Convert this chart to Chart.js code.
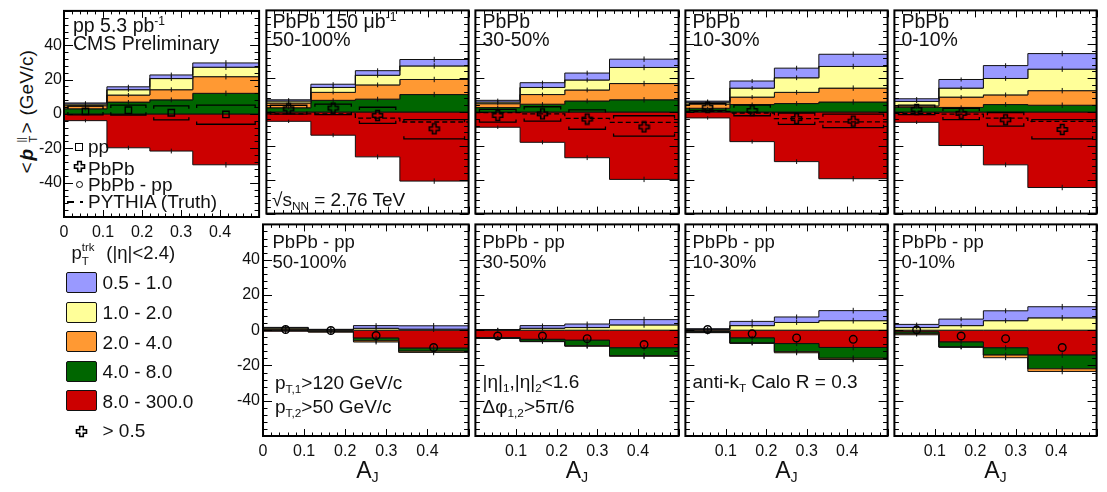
<!DOCTYPE html>
<html><head><meta charset="utf-8">
<script src="https://cdn.jsdelivr.net/npm/chart.js@4.4.1/dist/chart.umd.min.js"></script>
<style>
body{margin:0;background:#fff;width:1107px;height:492px;overflow:hidden;position:relative;font-family:"Liberation Sans",Arial,sans-serif;color:#111}
canvas{position:absolute}
svg{position:absolute;overflow:visible}
.t{position:absolute;white-space:nowrap;line-height:1}
.t sup,.t sub{font-size:62%;line-height:0;position:relative;vertical-align:baseline}
.t sup{top:-0.62em}
.t sub{top:0.32em}
.st{display:inline-block;position:relative;height:0;vertical-align:baseline}
.st .up{position:absolute;left:0;bottom:0.5em;font-size:62%;line-height:1}
.st .dn{position:absolute;left:0;top:-0.25em;font-size:62%;line-height:1}
</style></head><body>
<svg width="60" height="230" style="left:0;top:0" font-family="Liberation Sans, Arial, sans-serif" fill="#111">
  <g transform="translate(33.3,173.5) rotate(-90)">
    <text x="0" y="0" font-size="19">&lt;</text>
    <text x="13" y="0" font-size="19" font-weight="bold" font-style="italic">p</text>
    <text x="13.5" y="0" font-size="19" font-weight="bold">/</text>
    <text x="31" y="-8" font-size="11">||</text>
    <text x="31" y="4" font-size="11">T</text>
    <text x="40" y="0" font-size="19">&gt;</text>
    <text x="58" y="0" font-size="19">(GeV/c)</text>
  </g>
</svg>
<script>
// ---------------- data ----------------
const binEdges   = [0, 0.11, 0.22, 0.33, 0.5];
const binCenters = [0.055, 0.165, 0.275, 0.415];
const trackBins  = ['0.5 - 1.0', '1.0 - 2.0', '2.0 - 4.0', '4.0 - 8.0', '8.0 - 300.0'];
const trackColors = ['#9999ff', '#ffff99', '#ff9933', '#006600', '#cc0000'];
const xTickValues = [0, 0.1, 0.2, 0.3, 0.4];
const yTickValues = [-40, -20, 0, 20, 40];
// half-length of the small statistical error ticks drawn on each band edge (GeV/c)
const bandStatErr = [1.0, 1.2, 1.4, 1.6];

// pp
const pp_trk05 = [0.6, 1.7, 2.1, 2.5];
const pp_trk1  = [1.0, 3.1, 6.5, 5.5];
const pp_trk2  = [1.8, 4.1, 5.9, 9.7];
const pp_trk4  = [3.0, 6.9, 8.2, 12.0];
const pp_trk8  = [-3.9, -19.7, -21.6, -29.6];
const pp_all   = [1.5, 2.2, 0.7, -0.3];
const pp_sysHi = [4.5, 5.1, 4.7, 5.1];
const pp_sysLo = [-0.5, -0.6, -3.5, -6.0];

// PbPb 50-100%
const c50_trk05 = [0.7, 1.9, 2.7, 3.8];
const c50_trk1  = [1.2, 2.9, 5.7, 8.0];
const c50_trk2  = [2.8, 4.7, 8.4, 8.9];
const c50_trk4  = [2.5, 6.9, 7.6, 10.3];
const c50_trk8  = [-5.5, -13.7, -26.5, -40.8];
const c50_all   = [1.9, 2.3, -2.1, -9.9];
const c50_sysHi = [4.0, 4.7, 2.8, -4.5];
const c50_sysLo = [-1.3, -1.6, -6.7, -15.9];
const c50_pythia = [-1.1, -1.1, -3.6, -5.9];

// PbPb 30-50%
const c30_trk05 = [1.0, 2.8, 4.1, 4.9];
const c30_trk1  = [1.0, 4.2, 5.9, 9.5];
const c30_trk2  = [2.3, 5.7, 6.5, 9.6];
const c30_trk4  = [2.6, 4.6, 6.5, 7.2];
const c30_trk8  = [-9.0, -17.9, -27.0, -39.8];
const c30_all   = [-2.1, -1.1, -4.2, -8.8];
const c30_sysHi = [1.6, 3.1, 1.3, -2.2];
const c30_sysLo = [-6.0, -5.4, -10.2, -14.3];
const c30_pythia = [-0.4, -1.1, -3.8, -6.1];

// PbPb 10-30%
const c10_trk05 = [0.6, 4.2, 5.7, 7.2];
const c10_trk1  = [1.1, 5.3, 8.6, 12.8];
const c10_trk2  = [2.5, 4.4, 6.6, 8.2];
const c10_trk4  = [2.2, 4.4, 5.0, 5.9];
const c10_trk8  = [-3.5, -17.5, -29.3, -39.4];
const c10_all   = [2.8, 0.9, -3.9, -5.4];
const c10_sysHi = [5.1, 4.1, -0.6, -1.2];
const c10_sysLo = [0.9, -2.2, -7.3, -9.2];
const c10_pythia = [0.4, -0.6, -3.9, -5.8];

// PbPb 0-10%
const c0_trk05 = [1.5, 5.1, 7.6, 9.2];
const c0_trk1  = [2.7, 5.3, 9.7, 12.7];
const c0_trk2  = [0.8, 6.1, 5.7, 8.6];
const c0_trk4  = [2.8, 2.7, 4.4, 4.0];
const c0_trk8  = [-6.1, -19.8, -31.2, -44.6];
const c0_all   = [1.5, -0.8, -4.6, -10.3];
const c0_sysHi = [4.1, 2.2, -0.3, -4.5];
const c0_sysLo = [-1.6, -4.5, -8.3, -15.9];
const c0_pythia = [-0.8, -1.3, -3.6, -5.5];

// PbPb - pp 50-100%
const d50_trk05 = [0.3, 0.2, 1.5, 1.9];
const d50_trk1  = [0.6, 0.3, 1.1, 0.6];
const d50_trk2  = [0.5, -0.3, -0.7, -0.7];
const d50_trk4  = [0.2, -0.3, -1.5, -1.7];
const d50_trk8  = [-0.6, -0.5, -4.5, -10.2];
const d50_all   = [0.4, -0.2, -3.0, -9.8];

// PbPb - pp 30-50%
const d30_trk05 = [0.2, 1.5, 2.0, 3.0];
const d30_trk1  = [0.2, 1.1, 1.5, 3.0];
const d30_trk2  = [-0.1, -0.2, -0.3, -0.4];
const d30_trk4  = [-0.3, -1.1, -3.1, -4.4];
const d30_trk8  = [-4.2, -5.2, -5.7, -10.0];
const d30_all   = [-3.3, -3.3, -4.8, -8.1];

// PbPb - pp 10-30%
const d10_trk05 = [0.3, 2.4, 3.1, 5.7];
const d10_trk1  = [0.5, 2.6, 4.4, 5.4];
const d10_trk2  = [-0.2, -0.3, -0.6, -0.7];
const d10_trk4  = [-0.4, -2.8, -4.6, -6.1];
const d10_trk8  = [-0.8, -4.4, -7.6, -9.8];
const d10_all   = [0.4, -2.0, -4.4, -5.2];

// PbPb - pp 0-10%
const d0_trk05 = [1.8, 3.7, 5.6, 6.3];
const d0_trk1  = [1.5, 2.6, 5.4, 7.0];
const d0_trk2  = [-0.6, -0.2, -1.5, -1.5];
const d0_trk4  = [-1.0, -2.8, -4.1, -7.8];
const d0_trk8  = [-1.0, -6.7, -10.0, -14.1];
const d0_all   = [0.2, -3.3, -4.8, -9.8];

// ---------------- helpers ----------------
const FONT = "'Liberation Sans', Arial, sans-serif";
Chart.defaults.font.family = FONT;

function crossCanvas() {
  const c = document.createElement('canvas');
  c.width = 13; c.height = 13;
  const g = c.getContext('2d');
  const cx = 6.5, cy = 6.5, a = 1.8, r = 5.0;
  const pts = [[-a,-r],[a,-r],[a,-a],[r,-a],[r,a],[a,a],[a,r],[-a,r],[-a,a],[-r,a],[-r,-a],[-a,-a]];
  g.beginPath();
  pts.forEach(([x, y], i) => i ? g.lineTo(cx + x, cy + y) : g.moveTo(cx + x, cy + y));
  g.closePath();
  g.lineWidth = 1.6; g.strokeStyle = '#000'; g.stroke();
  return c;
}
const CROSS = crossCanvas();

const rootFrame = {
  id: 'rootFrame',
  afterDatasetsDraw(chart) {
    const {ctx, chartArea: a} = chart;
    const xs = chart.scales.x, ys = chart.scales.y;
    ctx.save();
    ctx.strokeStyle = '#000'; ctx.lineWidth = 1;
    ctx.beginPath();
    for (let i = 0; i <= 25; i++) {
      const px = Math.round(xs.getPixelForValue(i * 0.02)) + 0.5;
      const L = i % 5 === 0 ? 7 : 3.5;
      ctx.moveTo(px, a.bottom); ctx.lineTo(px, a.bottom - L);
      ctx.moveTo(px, a.top); ctx.lineTo(px, a.top + L);
    }
    for (let i = 0; i <= 30; i++) {
      const v = -60 + 4 * i;
      const py = Math.round(ys.getPixelForValue(v)) + 0.5;
      const L = v % 20 === 0 ? 9 : 4.5;
      ctx.moveTo(a.left, py); ctx.lineTo(a.left + L, py);
      ctx.moveTo(a.right, py); ctx.lineTo(a.right - L, py);
    }
    ctx.stroke();
    ctx.lineWidth = 2;
    ctx.strokeRect(a.left, a.top, a.right - a.left, a.bottom - a.top);
    ctx.restore();
  }
};

function stepData(arr) {
  return binEdges.map((x, i) => ({x, y: arr[Math.min(i, arr.length - 1)]}));
}

function makePanel(p) {
  const yW = p.showY ? 44 : 0, xH = p.showX ? 26 : 0;
  const padT = 2, padR = 2, padL = p.showY ? 0 : 2, padB = p.showX ? 0 : 2;
  const cv = document.createElement('canvas');
  cv.width = p.w + yW + padL + padR;
  cv.height = p.h + xH + padT + padB;
  cv.style.left = (p.left - yW - padL) + 'px';
  cv.style.top = (p.top - padT) + 'px';
  document.body.appendChild(cv);

  // stacking order: red, green, orange, yellow, blue; positive and negative stacks kept apart
  const stackOrder = [4, 3, 2, 1, 0];
  const lo = [[], [], [], [], []], hi = [[], [], [], [], []];
  for (let b = 0; b < 4; b++) {
    let pos = 0, neg = 0;
    for (const s of stackOrder) {
      const v = p.series[s][b];
      if (v >= 0) { lo[s][b] = pos; hi[s][b] = pos + v; pos += v; }
      else { hi[s][b] = neg; lo[s][b] = neg + v; neg += v; }
    }
  }
  const datasets = [];
  const errSeg = [];
  for (let s = 0; s < 5; s++) {
    const iLo = datasets.length;
    datasets.push({data: stepData(lo[s]), stepped: true, borderColor: '#111', borderWidth: 1, pointRadius: 0, fill: false, order: 10});
    datasets.push({data: stepData(hi[s]), stepped: true, borderColor: '#111', borderWidth: 1, pointRadius: 0,
      fill: {target: iLo}, backgroundColor: trackColors[s], order: 10});
    for (let b = 0; b < 4; b++) {
      const edge = p.series[s][b] >= 0 ? hi[s][b] : lo[s][b];
      const e = bandStatErr[b];
      errSeg.push({x: binCenters[b], y: edge - e}, {x: binCenters[b], y: edge + e}, {x: binCenters[b], y: null});
    }
  }
  datasets.push({data: errSeg, borderColor: '#111', borderWidth: 1, pointRadius: 0, fill: false, spanGaps: false, order: 5});
  if (p.pythia) {
    datasets.push({data: stepData(p.pythia), stepped: true, borderColor: '#000', borderWidth: 1.3, borderDash: [5, 3],
      pointRadius: 0, fill: false, order: 2});
  }
  if (p.sysHi) {
    const t = 1.6, ins = 0.01, br = [];
    for (let b = 0; b < 4; b++) {
      const xl = binEdges[b] + ins, xr = binEdges[b + 1] - ins;
      const yh = p.sysHi[b], yl = p.sysLo[b];
      br.push({x: xl, y: yh - t}, {x: xl, y: yh}, {x: xr, y: yh}, {x: xr, y: yh - t}, {x: xr, y: null});
      br.push({x: xl, y: yl + t}, {x: xl, y: yl}, {x: xr, y: yl}, {x: xr, y: yl + t}, {x: xr, y: null});
    }
    datasets.push({data: br, borderColor: '#000', borderWidth: 1.3, pointRadius: 0, fill: false, spanGaps: false, order: 1});
  }
  const style = p.marker === 'cross' ? CROSS : p.marker;
  datasets.push({data: binCenters.map((x, i) => ({x, y: p.points[i]})), showLine: false,
    pointStyle: style, pointRadius: p.marker === 'rect' ? 4.5 : 3.8,
    pointBorderColor: '#000', pointBackgroundColor: 'rgba(0,0,0,0)', pointBorderWidth: 1.4, order: 0});

  const zeroPad = s => { s.paddingLeft = 0; s.paddingRight = 0; s.paddingTop = 0; s.paddingBottom = 0; };
  new Chart(cv, {
    type: 'line',
    data: {datasets},
    plugins: [rootFrame],
    options: {
      responsive: false, animation: false, events: [],
      layout: {padding: {left: padL, right: padR, top: padT, bottom: padB}},
      plugins: {legend: {display: false}, tooltip: {enabled: false}},
      scales: {
        x: {type: 'linear', min: 0, max: 0.5, display: !!p.showX,
          grid: {display: false, drawTicks: false}, border: {display: false},
          ticks: {stepSize: 0.1, padding: 6, autoSkip: false, maxRotation: 0, color: '#111', font: {size: 16},
            callback: v => {
              const hit = xTickValues.find(t => Math.abs(t - v) < 1e-6);
              if (hit === undefined) return '';
              if (hit === 0) return p.showZero ? '0' : '';
              return hit.toFixed(1);
            }},
          afterFit(s) { s.height = xH; zeroPad(s); }},
        y: {type: 'linear', min: -60, max: 60, display: !!p.showY,
          grid: {display: false, drawTicks: false}, border: {display: false},
          ticks: {stepSize: 20, padding: p.padY || 2, autoSkip: false, color: '#111', font: {size: 16},
            callback: v => yTickValues.includes(Math.round(v)) ? String(Math.round(v)) : ''},
          afterFit(s) { s.width = yW; zeroPad(s); }}
      }
    }
  });
}

const T1 = 7, H1 = 210, T2 = 221, H2 = 215;
const panels = [
  {left: 64, top: T1, w: 199, h: H1, showY: true, showX: true, showZero: true,
   series: [pp_trk05, pp_trk1, pp_trk2, pp_trk4, pp_trk8], points: pp_all, marker: 'rect', sysHi: pp_sysHi, sysLo: pp_sysLo},
  {left: 263, top: T1, w: 209, h: H1,
   series: [c50_trk05, c50_trk1, c50_trk2, c50_trk4, c50_trk8], points: c50_all, marker: 'cross', sysHi: c50_sysHi, sysLo: c50_sysLo, pythia: c50_pythia},
  {left: 472, top: T1, w: 210, h: H1,
   series: [c30_trk05, c30_trk1, c30_trk2, c30_trk4, c30_trk8], points: c30_all, marker: 'cross', sysHi: c30_sysHi, sysLo: c30_sysLo, pythia: c30_pythia},
  {left: 682, top: T1, w: 209, h: H1,
   series: [c10_trk05, c10_trk1, c10_trk2, c10_trk4, c10_trk8], points: c10_all, marker: 'cross', sysHi: c10_sysHi, sysLo: c10_sysLo, pythia: c10_pythia},
  {left: 891, top: T1, w: 209, h: H1,
   series: [c0_trk05, c0_trk1, c0_trk2, c0_trk4, c0_trk8], points: c0_all, marker: 'cross', sysHi: c0_sysHi, sysLo: c0_sysLo, pythia: c0_pythia},
  {left: 263, top: T2, w: 209, h: H2, showY: true, showX: true, showZero: true, padY: 3,
   series: [d50_trk05, d50_trk1, d50_trk2, d50_trk4, d50_trk8], points: d50_all, marker: 'circle'},
  {left: 472, top: T2, w: 210, h: H2, showX: true,
   series: [d30_trk05, d30_trk1, d30_trk2, d30_trk4, d30_trk8], points: d30_all, marker: 'circle'},
  {left: 682, top: T2, w: 209, h: H2, showX: true,
   series: [d10_trk05, d10_trk1, d10_trk2, d10_trk4, d10_trk8], points: d10_all, marker: 'circle'},
  {left: 891, top: T2, w: 209, h: H2, showX: true,
   series: [d0_trk05, d0_trk1, d0_trk2, d0_trk4, d0_trk8], points: d0_all, marker: 'circle'}
];
panels.forEach(makePanel);

// ---------------- text ----------------
function addText(x, base, size, html, extra) {
  const d = document.createElement('div');
  d.className = 't';
  d.style.left = x + 'px';
  d.style.top = (base - 0.8466 * size) + 'px';
  d.style.fontSize = size + 'px';
  if (extra) Object.assign(d.style, extra);
  d.innerHTML = html;
  document.body.appendChild(d);
  return d;
}
function addBox(x, y, w, h, style) {
  const d = document.createElement('div');
  d.style.position = 'absolute';
  d.style.left = x + 'px'; d.style.top = y + 'px';
  d.style.width = w + 'px'; d.style.height = h + 'px';
  Object.assign(d.style, style || {});
  document.body.appendChild(d);
  return d;
}
function addCross(cx, cy) {
  const c = CROSS.cloneNode();
  c.getContext('2d').drawImage(CROSS, 0, 0);
  c.style.left = (cx - 6.5) + 'px'; c.style.top = (cy - 6.5) + 'px';
  document.body.appendChild(c);
}

// panel labels
addText(73, 33, 19.5, 'pp 5.3 pb<sup>-1</sup>');
addText(73, 50.5, 19.5, 'CMS Preliminary');
addText(272.5, 28.5, 19.5, 'PbPb 150 &mu;b<sup>-1</sup>');
addText(272.5, 47, 19.5, '50-100%');
addText(482.5, 28.5, 19.5, 'PbPb');
addText(482.5, 47, 19.5, '30-50%');
addText(692.5, 28.5, 19.5, 'PbPb');
addText(692.5, 47, 19.5, '10-30%');
addText(901.5, 28.5, 19.5, 'PbPb');
addText(901.5, 47, 19.5, '0-10%');
addText(272, 206.5, 19, '&radic;s<sub>NN</sub> = 2.76 TeV');

const diffLabels = ['50-100%', '30-50%', '10-30%', '0-10%'];
[272.5, 482.5, 692.5, 901.5].forEach((x, i) => {
  addText(x, 248.5, 18.5, 'PbPb - pp');
  addText(x, 268.5, 18.5, diffLabels[i]);
});
addText(275, 389, 19, 'p<sub>T,1</sub>&gt;120 GeV/c');
addText(275, 413, 19, 'p<sub>T,2</sub>&gt;50 GeV/c');
addText(482.5, 388.5, 19, '|&eta;|<sub>1</sub>,|&eta;|<sub>2</sub>&lt;1.6');
addText(482.5, 413, 19, '&Delta;&phi;<sub>1,2</sub>&gt;5&pi;/6');
addText(692.5, 388.5, 19, 'anti-k<sub>T</sub> Calo R = 0.3');

// A_J titles
[[263, 209], [472, 210], [682, 209], [891, 209]].forEach(([x, w]) => {
  addText(x, 478, 23, 'A<sub>J</sub>', {width: w + 'px', textAlign: 'center'});
});

// legend inside pp panel
addBox(75, 143, 8, 8, {border: '1.4px solid #000', boxSizing: 'border-box'});
addCross(79, 166);
addBox(75.5, 180.5, 7, 7, {border: '1.3px solid #000', borderRadius: '50%', boxSizing: 'border-box'});
addBox(67, 201, 7, 2, {background: '#000'});
addBox(80, 201, 3, 2, {background: '#000'});
addText(88, 153, 19, 'pp');
addText(88, 175, 19, 'PbPb');
addText(88, 191, 19, 'PbPb - pp');
addText(88, 208, 19, 'PYTHIA (Truth)');

// p_T^trk legend
addText(71.5, 259.5, 18.5, 'p<span class="st" style="width:1.05em"><span class="up">trk</span><span class="dn">T</span></span> (|&eta;|&lt;2.4)');
const boxTops = [272, 302, 331, 361, 390];
const boxBases = [289.5, 319, 348.7, 378.3, 408];
trackBins.forEach((lab, i) => {
  addBox(66, boxTops[i], 31, 21, {background: trackColors[i], border: '1.5px solid #111', borderRadius: '2px', boxSizing: 'border-box'});
  addText(102.5, boxBases[i], 19, lab);
});
addCross(81, 431);
addText(102.5, 437, 19, '&gt; 0.5');
</script>
</body></html>
